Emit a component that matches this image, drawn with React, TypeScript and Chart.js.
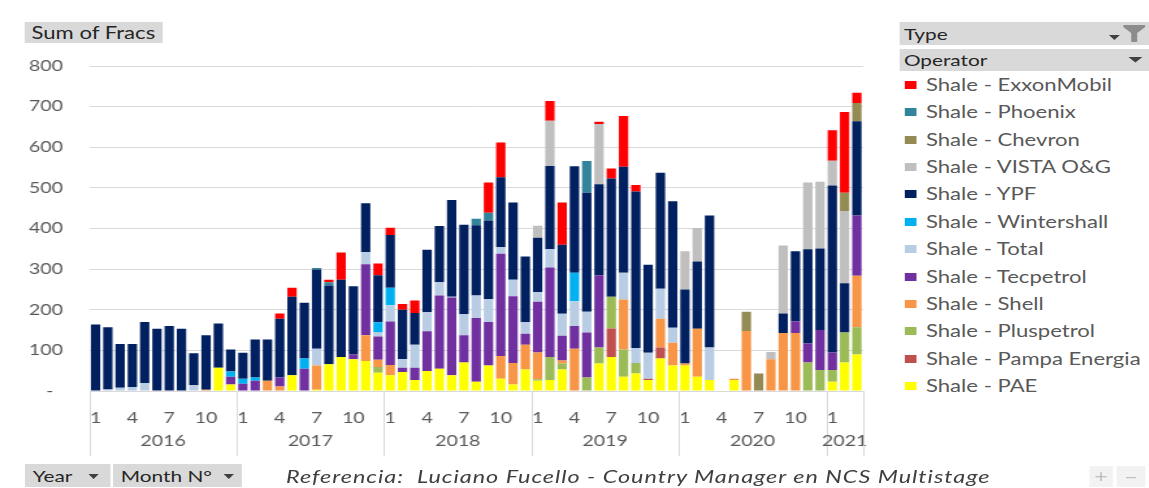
import React, { useEffect, useRef } from 'react';
import { Chart, registerables } from 'chart.js';

Chart.register(...registerables);

// The reference screenshot is stretched horizontally; everything is laid out
// in unstretched units and the whole page is scaled on x by STRETCH.
const STRETCH = 1.3;
const PAGE_W = 1149;
const PAGE_H = 488;
const CANVAS_W = 685;
const FONT = 'Lato, "Open Sans", "Liberation Sans", sans-serif';

const MONTHS = [
  1, 2, 3, 4, 5, 6, 7, 8, 9, 10, 11, 12,
  1, 2, 3, 4, 5, 6, 7, 8, 9, 10, 11, 12,
  1, 2, 3, 4, 5, 6, 7, 8, 9, 10, 11, 12,
  1, 2, 3, 4, 5, 6, 7, 8, 9, 10, 11, 12,
  1, 2, 3, 4, 5, 6, 7, 8, 9, 10, 11, 12,
  1, 2, 3,
];
const YEARS = ['2016', '2017', '2018', '2019', '2020', '2021'];
const YEAR_LENGTHS = [12, 12, 12, 12, 12, 3];
const SHOWN_MONTHS = [1, 4, 7, 10];
const Y_TICKS_MAX = 800;
const Y_TICKS_STEP = 100;

const PAE = [
  0, 0, 0, 0, 0, 0, 0, 0, 0, 0, 57, 16,
  0, 0, 0, 0, 39, 0, 3, 66, 84, 78, 74, 45,
  39, 47, 27, 49, 55, 39, 70, 23, 63, 30, 16, 53,
  25, 27, 53, 0, 0, 68, 84, 35, 43, 27, 80, 63,
  63, 35, 27, 0, 27, 0, 0, 0, 0, 0, 0, 0,
  23, 70, 90,
];
const PAMPA = [
  0, 0, 0, 0, 0, 0, 0, 0, 0, 0, 0, 0,
  0, 0, 0, 0, 0, 0, 0, 0, 0, 0, 0, 0,
  0, 0, 0, 0, 0, 0, 0, 0, 0, 0, 0, 0,
  0, 0, 0, 0, 0, 0, 70, 0, 0, 3, 27, 0,
  0, 0, 0, 0, 0, 0, 0, 0, 0, 0, 0, 0,
  0, 0, 0,
];
const PLUSPETROL = [
  0, 0, 0, 0, 0, 0, 0, 0, 0, 0, 0, 0,
  0, 0, 0, 0, 0, 0, 0, 0, 0, 0, 0, 14,
  0, 0, 0, 0, 0, 0, 0, 0, 0, 0, 0, 0,
  4, 57, 15, 0, 33, 39, 78, 67, 26, 0, 0, 0,
  0, 0, 0, 0, 0, 0, 0, 0, 0, 0, 70, 52,
  29, 74, 67,
];
const SHELL = [
  0, 0, 0, 0, 0, 0, 0, 0, 0, 3, 0, 0,
  0, 0, 25, 11, 0, 0, 60, 0, 0, 0, 63, 18,
  25, 0, 0, 0, 0, 0, 0, 0, 0, 56, 53, 61,
  66, 0, 7, 104, 0, 0, 0, 123, 0, 0, 71, 56,
  5, 118, 0, 0, 3, 148, 0, 78, 143, 143, 0, 0,
  0, 0, 127,
];
const TECPETROL = [
  0, 0, 0, 0, 0, 0, 0, 0, 0, 0, 0, 19,
  18, 25, 0, 22, 0, 55, 0, 0, 0, 12, 175, 57,
  107, 10, 30, 98, 180, 191, 67, 157, 107, 252, 164, 27,
  125, 220, 61, 56, 111, 178, 0, 0, 0, 0, 0, 0,
  0, 0, 0, 0, 0, 0, 0, 0, 0, 29, 47, 98,
  43, 0, 148,
];
const TOTAL = [
  0, 4, 8, 10, 20, 0, 0, 0, 14, 0, 0, 0,
  0, 0, 0, 0, 0, 0, 41, 0, 0, 0, 30, 10,
  40, 22, 57, 47, 33, 2, 52, 55, 56, 16, 41, 28,
  23, 45, 54, 61, 51, 0, 0, 66, 37, 64, 74, 37,
  0, 0, 80, 0, 0, 0, 0, 0, 0, 0, 0, 0,
  0, 0, 0,
];
const WINTERSHALL = [
  0, 0, 0, 0, 0, 0, 0, 0, 0, 0, 0, 13,
  12, 8, 0, 0, 0, 25, 0, 0, 0, 0, 0, 25,
  43, 0, 0, 0, 0, 0, 0, 0, 0, 0, 0, 0,
  0, 0, 0, 70, 0, 0, 0, 0, 0, 0, 0, 0,
  0, 0, 0, 0, 0, 0, 0, 0, 0, 0, 0, 0,
  0, 0, 0,
];
const YPF = [
  164, 153, 108, 106, 150, 153, 160, 153, 79, 134, 109, 54,
  64, 94, 102, 145, 193, 137, 195, 194, 190, 168, 120, 116,
  130, 121, 78, 154, 138, 238, 220, 173, 194, 172, 190, 162,
  134, 205, 170, 262, 293, 224, 291, 261, 385, 217, 285, 311,
  182, 166, 325, 0, 0, 0, 0, 0, 48, 172, 232, 201,
  411, 121, 232,
];
const VISTA = [
  0, 0, 0, 0, 0, 0, 0, 0, 0, 0, 0, 0,
  0, 0, 0, 0, 0, 0, 0, 0, 0, 0, 0, 0,
  0, 0, 0, 0, 0, 0, 0, 0, 0, 0, 0, 0,
  30, 111, 0, 0, 0, 148, 0, 0, 0, 0, 0, 0,
  94, 82, 0, 0, 0, 0, 0, 18, 167, 0, 164, 164,
  61, 178, 0,
];
const CHEVRON = [
  0, 0, 0, 0, 0, 0, 0, 0, 0, 0, 0, 0,
  0, 0, 0, 0, 0, 0, 0, 0, 0, 0, 0, 0,
  0, 0, 0, 0, 0, 0, 0, 0, 0, 0, 0, 0,
  0, 0, 0, 0, 0, 0, 0, 0, 0, 0, 0, 0,
  0, 0, 0, 0, 0, 47, 43, 0, 0, 0, 0, 0,
  0, 45, 45,
];
const PHOENIX = [
  0, 0, 0, 0, 0, 0, 0, 0, 0, 0, 0, 0,
  0, 0, 0, 0, 0, 0, 4, 8, 0, 0, 0, 0,
  0, 0, 0, 0, 0, 0, 0, 16, 19, 0, 0, 0,
  0, 0, 0, 0, 78, 0, 0, 0, 0, 0, 0, 0,
  0, 0, 0, 0, 0, 0, 0, 0, 0, 0, 0, 0,
  0, 0, 0,
];
const EXXONMOBIL = [
  0, 0, 0, 0, 0, 0, 0, 0, 0, 0, 0, 0,
  0, 0, 0, 13, 22, 0, 0, 6, 67, 0, 0, 29,
  18, 14, 31, 0, 0, 0, 0, 0, 74, 86, 0, 0,
  0, 49, 104, 0, 0, 6, 25, 125, 16, 0, 0, 0,
  0, 0, 0, 0, 0, 0, 0, 0, 0, 0, 0, 0,
  75, 199, 25,
];

// stacking order: first = bottom of the bar
const SERIES = [
  { name: 'Shale - PAE', color: '#FFFF00', data: PAE },
  { name: 'Shale - Pampa Energia', color: '#C0504D', data: PAMPA },
  { name: 'Shale - Pluspetrol', color: '#9BBB59', data: PLUSPETROL },
  { name: 'Shale - Shell', color: '#F79646', data: SHELL },
  { name: 'Shale - Tecpetrol', color: '#7030A0', data: TECPETROL },
  { name: 'Shale - Total', color: '#B8CCE4', data: TOTAL },
  { name: 'Shale - Wintershall', color: '#00B0F0', data: WINTERSHALL },
  { name: 'Shale - YPF', color: '#002060', data: YPF },
  { name: 'Shale - VISTA O&G', color: '#BFBFBF', data: VISTA },
  { name: 'Shale - Chevron', color: '#948A54', data: CHEVRON },
  { name: 'Shale - Phoenix', color: '#31849B', data: PHOENIX },
  { name: 'Shale - ExxonMobil', color: '#FF0000', data: EXXONMOBIL },
];

const u = (x: number) => x / STRETCH; // reference px -> layout units

const yearAxisPlugin = {
  id: 'yearAxis',
  afterDraw(chart: any) {
    const xs = chart.scales.x;
    const area = chart.chartArea;
    const ctx = chart.ctx;
    const half = (xs.getPixelForValue(1) - xs.getPixelForValue(0)) / 2;
    ctx.save();
    ctx.strokeStyle = '#D9D9D9';
    ctx.lineWidth = 1;
    ctx.fillStyle = '#595959';
    ctx.font = `15px ${FONT}`;
    ctx.textAlign = 'center';
    ctx.textBaseline = 'middle';
    let start = 0;
    let right = 0;
    YEARS.forEach((yr, k) => {
      const n = YEAR_LENGTHS[k];
      const left = xs.getPixelForValue(start) - half;
      right = xs.getPixelForValue(start + n - 1) + half;
      ctx.beginPath();
      ctx.moveTo(Math.round(left) + 0.5, area.bottom);
      ctx.lineTo(Math.round(left) + 0.5, 456);
      ctx.stroke();
      ctx.fillText(yr, (left + right) / 2, 441);
      start += n;
    });
    ctx.beginPath();
    ctx.moveTo(Math.round(right) + 0.5, area.bottom);
    ctx.lineTo(Math.round(right) + 0.5, 456);
    ctx.stroke();
    ctx.restore();
  },
};

const btn: React.CSSProperties = {
  position: 'absolute',
  background: '#D9D9D9',
  color: '#262626',
  fontSize: 16,
  whiteSpace: 'nowrap',
  boxSizing: 'border-box',
};

const Arrow = ({ left, top, w = 8, h = 5 }: { left: number; top: number; w?: number; h?: number }) => (
  <svg style={{ position: 'absolute', left, top }} width={w} height={h}>
    <polygon points={`0,0 ${w},0 ${w / 2},${h}`} fill="#404040" />
  </svg>
);

export default function App() {
  const ref = useRef<HTMLCanvasElement>(null);

  useEffect(() => {
    const canvas = ref.current!;
    const chart = new Chart(canvas, {
      type: 'bar',
      data: {
        labels: MONTHS.map(String),
        datasets: SERIES.map((s) => ({
          label: s.name,
          data: s.data,
          backgroundColor: s.color,
          borderWidth: 0,
          barPercentage: 0.76,
          categoryPercentage: 1,
          stack: 'fracs',
        })),
      },
      options: {
        responsive: false,
        animation: false,
        layout: { padding: { left: 0, right: CANVAS_W - u(863), top: 66, bottom: 57 } },
        plugins: { legend: { display: false }, tooltip: { enabled: false } },
        scales: {
          x: {
            stacked: true,
            grid: { display: false },
            border: { display: false },
            ticks: {
              autoSkip: false,
              maxRotation: 0,
              padding: 10,
              color: '#595959',
              font: { family: FONT, size: 15 },
              callback: (_v: any, i: number) =>
                SHOWN_MONTHS.includes(MONTHS[i]) ? String(MONTHS[i]) : '',
            },
            afterFit: (s: any) => {
              s.height = 40;
            },
          },
          y: {
            stacked: true,
            min: 0,
            max: Y_TICKS_MAX,
            grid: { color: '#D9D9D9', drawTicks: false, lineWidth: 1 },
            border: { display: false },
            ticks: {
              stepSize: Y_TICKS_STEP,
              padding: u(89.4) - u(63),
              color: '#595959',
              font: { family: FONT, size: 15 },
              callback: (v: any) => (Number(v) === 0 ? '-\u2002' : String(v)),
            },
            afterFit: (s: any) => {
              s.width = u(89.4);
            },
          },
        },
      },
      plugins: [yearAxisPlugin],
    });
    return () => chart.destroy();
  }, []);

  const legendItems = [...SERIES].reverse();
  const panelLeft = u(900);

  return (
    <div
      style={{
        position: 'absolute',
        left: 0,
        top: 0,
        width: PAGE_W / STRETCH,
        height: PAGE_H,
        transform: `scaleX(${STRETCH})`,
        transformOrigin: '0 0',
        fontFamily: FONT,
        background: '#FFFFFF',
      }}
    >
      <canvas
        ref={ref}
        width={CANVAS_W}
        height={PAGE_H}
        style={{ position: 'absolute', left: 0, top: 0, width: CANVAS_W, height: PAGE_H }}
      />

      <div style={{ ...btn, left: u(25), top: 22, width: u(163) - u(25), height: 21, lineHeight: '21px', paddingLeft: 5, fontSize: 17 }}>
        Sum of Fracs
      </div>

      <div style={{ ...btn, left: panelLeft, top: 22, width: u(1149) - panelLeft, height: 23, lineHeight: '23px', paddingLeft: 3 }}>
        Type
        <Arrow left={u(1109) - panelLeft} top={13} w={u(11)} h={5} />
        <svg style={{ position: 'absolute', left: u(1123) - panelLeft, top: 3 }} width={u(22)} height={17}>
          <polygon
            points={`0,0 ${u(22)},0 ${u(22)},2 ${u(14)},8 ${u(14)},17 ${u(8)},17 ${u(8)},8 0,2`}
            fill="#8C8C8C"
          />
        </svg>
      </div>
      <div style={{ ...btn, left: panelLeft, top: 49, width: u(1149) - panelLeft, height: 22, lineHeight: '22px', paddingLeft: 3 }}>
        Operator
        <Arrow left={u(1129) - panelLeft} top={8} w={u(14)} h={5.5} />
      </div>

      {legendItems.map((s, i) => {
        const cy = 85 + 27.36 * i;
        return (
          <div key={s.name} style={{ position: 'absolute', left: u(905), top: cy - 11, height: 22, whiteSpace: 'nowrap' }}>
            <div style={{ position: 'absolute', left: 0, top: 7, width: 9, height: 8, background: s.color }} />
            <div style={{ position: 'absolute', left: u(926) - u(905), top: 0, lineHeight: '22px', fontSize: 17, color: '#595959' }}>
              {s.name}
            </div>
          </div>
        );
      })}

      <div style={{ ...btn, left: u(25), top: 464, width: u(110) - u(25), height: 23, lineHeight: '23px', paddingLeft: 6 }}>
        Year
        <Arrow left={u(88) - u(25)} top={10} />
      </div>
      <div style={{ ...btn, left: u(113), top: 464, width: u(242) - u(113), height: 23, lineHeight: '23px', paddingLeft: 6 }}>
        Month N°
        <Arrow left={u(223) - u(113)} top={10} />
      </div>

      <div
        style={{
          position: 'absolute',
          left: u(286),
          top: 465,
          lineHeight: '23px',
          fontSize: 18,
          letterSpacing: '0.75px',
          fontStyle: 'italic',
          color: '#404040',
          whiteSpace: 'nowrap',
        }}
      >
        Referencia:&nbsp; Luciano Fucello - Country Manager en NCS Multistage
      </div>

      <div style={{ ...btn, left: u(1089), top: 466, width: u(1113) - u(1089), height: 21, lineHeight: '21px', background: '#F2F2F2', color: '#BFBFBF', textAlign: 'center', fontSize: 18 }}>
        +
      </div>
      <div style={{ ...btn, left: u(1117), top: 466, width: u(1145) - u(1117), height: 21, lineHeight: '21px', background: '#F2F2F2', color: '#BFBFBF', textAlign: 'center', fontSize: 18 }}>
        −
      </div>
    </div>
  );
}
